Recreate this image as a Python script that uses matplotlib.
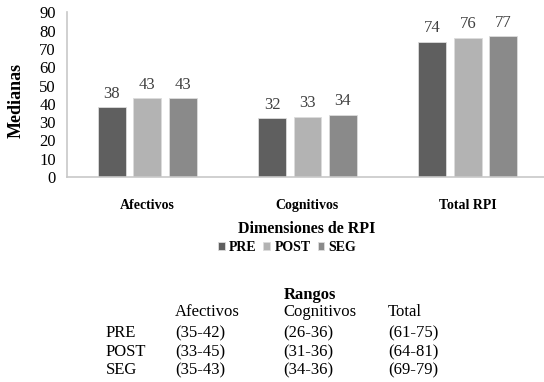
import numpy as np
import matplotlib
matplotlib.use('Agg')
import matplotlib.pyplot as plt

plt.rcParams['font.family'] = ['Liberation Serif', 'DejaVu Serif']

# data
categories = ['Afectivos', 'Cognitivos', 'Total RPI']
series = ['PRE', 'POST', 'SEG']
pre = [38, 32, 74]
post = [43, 33, 76]
seg = [43, 34, 77]
colors = ['#5f5f5f', '#b3b3b3', '#8a8a8a']

range_cols = ['Afectivos', 'Cognitivos', 'Total']
range_rows = ['PRE', 'POST', 'SEG']
ranges = [['(35-42)', '(26-36)', '(61-75)'],
          ['(33-45)', '(31-36)', '(64-81)'],
          ['(35-43)', '(34-36)', '(69-79)']]

fig = plt.figure(figsize=(5.44, 3.82), dpi=100)
ax = fig.add_axes([67 / 544, 205 / 382, 481 / 544, 164.7 / 382])

x = np.arange(len(categories))
width = 0.174
step = 0.221
text_col = '#404040'
for k, (vals, col, name) in enumerate(zip([pre, post, seg], colors, series)):
    pos = x + (k - 1) * step
    bars = ax.bar(pos, vals, width, color=col, label=name,
                  edgecolor='#dcdcdc', linewidth=0.6)
    for b, v in zip(bars, vals):
        ax.text(b.get_x() + b.get_width() / 2, v + 3, str(v),
                ha='center', va='bottom', fontsize=12, color=text_col)

ax.set_xlim(-0.5, 2.5)
ax.set_ylim(0, 90)
ax.set_yticks(range(0, 91, 10))
ax.set_xticks(x)
ax.set_xticklabels(categories, fontsize=10, fontweight='bold')
ax.tick_params(axis='y', length=0, labelsize=12, pad=8)
ax.tick_params(axis='x', length=0, pad=16)
for s in ['top', 'right']:
    ax.spines[s].set_visible(False)
for s in ['left', 'bottom']:
    ax.spines[s].set_color('#c8c8c8')
    ax.spines[s].set_linewidth(1.2)

ax.set_ylabel('Medianas', fontsize=13, fontweight='bold')
ax.yaxis.set_label_coords(-0.088, 0.467)
fig.text(307 / 544, 1 - 229 / 382, 'Dimensiones de RPI', ha='center',
         va='center', fontsize=11.5, fontweight='bold')

fig.legend(loc='center', bbox_to_anchor=(287 / 544, 1 - 247 / 382),
           ncol=3, frameon=False, prop={'weight': 'bold', 'size': 10},
           handlelength=0.5, handleheight=0.5, handletextpad=0.3,
           columnspacing=0.5)

# ranges table
fig.text(310 / 544, 1 - 295 / 382, 'Rangos', ha='center', va='center',
         fontsize=12, fontweight='bold')
col_x = [175, 283, 388]
for cx, name in zip(col_x, range_cols):
    fig.text(cx / 544, 1 - 312 / 382, name, ha='left', va='center',
             fontsize=12)
row_y = [333, 352, 370]
for ry, name, vals in zip(row_y, range_rows, ranges):
    fig.text(106 / 544, 1 - ry / 382, name, ha='left', va='center',
             fontsize=12)
    for cx, v in zip(col_x, vals):
        fig.text(cx / 544, 1 - ry / 382, v, ha='left', va='center',
                 fontsize=12)

fig.savefig('out.png', dpi=100)
